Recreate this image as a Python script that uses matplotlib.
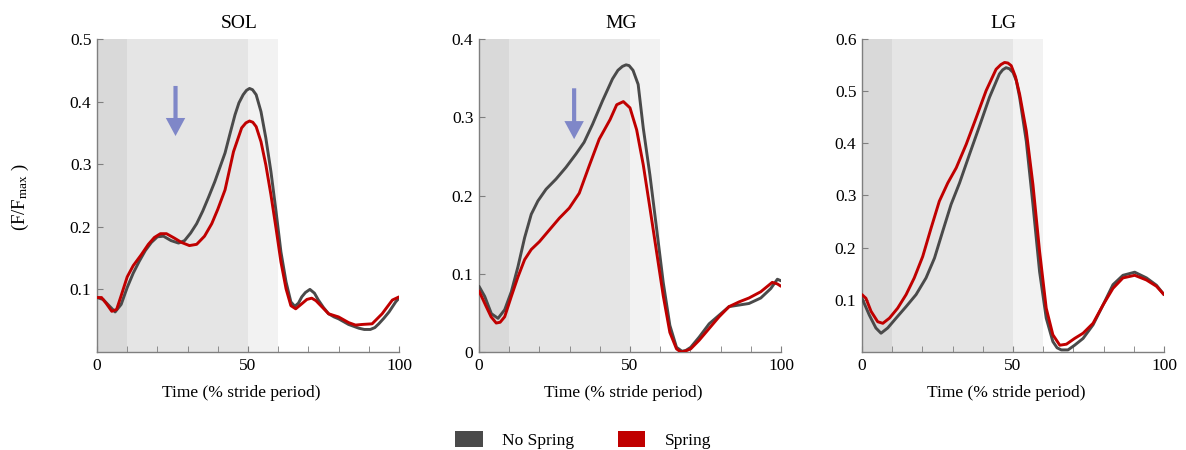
import matplotlib
matplotlib.use("Agg")
import matplotlib.pyplot as plt
from matplotlib.patches import Patch

plt.rcParams["font.family"] = ["Liberation Serif", "DejaVu Serif"]
plt.rcParams["mathtext.fontset"] = "custom"
plt.rcParams["mathtext.rm"] = "Liberation Serif"
plt.rcParams["mathtext.it"] = "Liberation Serif:italic"

# --- data ---
muscles = ["SOL", "MG", "LG"]
y_max = [0.5, 0.4, 0.6]
y_ticks = [[0.1, 0.2, 0.3, 0.4, 0.5],
           [0, 0.1, 0.2, 0.3, 0.4],
           [0.1, 0.2, 0.3, 0.4, 0.5, 0.6]]
y_ticklabels = [["0.1", "0.2", "0.3", "0.4", "0.5"],
                ["0", "0.1", "0.2", "0.3", "0.4"],
                ["0.1", "0.2", "0.3", "0.4", "0.5", "0.6"]]

# SOL
sol_nospring_x = [0, 2, 4, 6, 8, 10, 12, 14, 16, 18,
                  20, 22, 24.5, 27, 29, 31, 33, 35, 37, 39,
                  42.4, 44, 45.7, 47, 48.4, 49.5, 50.5, 51.5, 52.7, 54.3,
                  55.9, 57.6, 59.3, 60.9, 62.6, 64.2, 65.5, 66.7, 67.8, 69,
                  70.5, 72, 73.3, 75, 76.7, 78.5, 80, 83.3, 86.7, 88.5,
                  90.5, 92, 93.3, 95, 96.7, 98.9, 100]
sol_nospring_y = [0.087, 0.084, 0.074, 0.064, 0.076, 0.103, 0.126, 0.145, 0.162, 0.175,
                  0.184, 0.185, 0.178, 0.174, 0.178, 0.19, 0.205, 0.225, 0.248, 0.272,
                  0.318, 0.348, 0.379, 0.398, 0.411, 0.418, 0.421, 0.419, 0.411, 0.384,
                  0.342, 0.288, 0.224, 0.16, 0.112, 0.08, 0.073, 0.078, 0.088, 0.095,
                  0.1, 0.094, 0.083, 0.071, 0.061, 0.056, 0.053, 0.044, 0.038, 0.036,
                  0.036, 0.039, 0.045, 0.054, 0.064, 0.08, 0.086]
sol_spring_x = [0, 1.5, 3, 4.9, 6.5, 8, 10, 12, 14.6, 17,
                19, 21, 23, 25.6, 28, 30.6, 33, 35.6, 38, 40,
                42.4, 45.2, 47.9, 49.3, 50.5, 51.6, 52.7, 54.3, 55.9, 57.6,
                59.3, 60.9, 62.6, 64.2, 65.8, 67.8, 69.5, 71.1, 72.5, 73.9,
                76.7, 80, 83.3, 85.6, 87.8, 91.1, 94.4, 97.8, 100]
sol_spring_y = [0.087, 0.087, 0.078, 0.065, 0.068, 0.09, 0.12, 0.138, 0.155, 0.172,
                0.183, 0.189, 0.189, 0.182, 0.175, 0.170, 0.172, 0.185, 0.205, 0.228,
                0.259, 0.32, 0.358, 0.366, 0.369, 0.367, 0.36, 0.336, 0.299, 0.251,
                0.197, 0.144, 0.101, 0.074, 0.069, 0.077, 0.084, 0.086, 0.082, 0.075,
                0.061, 0.056, 0.047, 0.043, 0.044, 0.045, 0.061, 0.083, 0.088]

# MG
mg_nospring_x = [0, 1.9, 4.1, 6.3, 8.5, 10.7, 12.9, 15.1, 17.3, 19.5,
                 22.2, 25.5, 28.8, 32.1, 34.8, 37.6, 40.9, 44.2, 46, 47.5,
                 48.7, 49.7, 51, 52.7, 54.4, 56.6, 58.8, 61, 63.2, 65.4,
                 67.2, 68.5, 70.1, 72.9, 76.2, 79.5, 82.8, 86.1, 89.4, 93.3,
                 96.6, 98.8, 100]
mg_nospring_y = [0.084, 0.071, 0.049, 0.043, 0.054, 0.077, 0.109, 0.146, 0.176, 0.193,
                 0.208, 0.221, 0.236, 0.253, 0.268, 0.291, 0.321, 0.349, 0.36, 0.365,
                 0.367, 0.366, 0.36, 0.342, 0.286, 0.226, 0.158, 0.089, 0.034, 0.006,
                 0.001, 0.002, 0.006, 0.019, 0.036, 0.047, 0.058, 0.06, 0.062, 0.069,
                 0.081, 0.093, 0.091]
mg_spring_x = [0, 2.4, 4, 5.7, 7, 8.5, 10.7, 12.9, 15.1, 17.3,
               20, 23.3, 26.6, 29.9, 33.2, 36.5, 39.8, 43.4, 45.6, 47.8,
               50, 52.2, 54.4, 56.6, 58.8, 61, 63.2, 65.4, 66.8, 68.2,
               70.1, 72.9, 76.2, 79.5, 82.8, 86.1, 89.4, 93.3, 97.1, 98.8,
               100]
mg_spring_y = [0.078, 0.058, 0.045, 0.037, 0.038, 0.045, 0.071, 0.096, 0.118, 0.131,
               0.141, 0.156, 0.171, 0.184, 0.203, 0.238, 0.272, 0.297, 0.316, 0.32,
               0.312, 0.284, 0.239, 0.184, 0.128, 0.072, 0.025, 0.004, 0.0, 0.001,
               0.004, 0.015, 0.03, 0.045, 0.058, 0.064, 0.069, 0.077, 0.089, 0.087,
               0.084]

# LG
lg_nospring_x = [0, 2.4, 4.6, 6.3, 8.5, 11.3, 14.6, 17.9, 21.2, 24,
                 26.7, 29.5, 32.3, 35.6, 38.9, 42.2, 45.5, 46.6, 47.7, 48.8,
                 50, 51.1, 52.2, 54.4, 56.6, 58.8, 61, 63.2, 64.6, 66,
                 68.2, 70.4, 73.2, 76.5, 79.8, 83.1, 86.4, 90.3, 94.2, 97.5,
                 100]
lg_nospring_y = [0.103, 0.071, 0.046, 0.036, 0.046, 0.065, 0.087, 0.11, 0.142, 0.18,
                 0.231, 0.283, 0.324, 0.379, 0.433, 0.488, 0.533, 0.541, 0.545, 0.543,
                 0.536, 0.52, 0.488, 0.404, 0.283, 0.154, 0.065, 0.02, 0.008, 0.004,
                 0.004, 0.013, 0.026, 0.052, 0.09, 0.129, 0.147, 0.153, 0.142, 0.128,
                 0.11]
lg_spring_x = [0, 1.3, 3, 5.2, 6.9, 9.1, 11.8, 14.6, 17.3, 20.1,
               22.9, 25.6, 28.4, 31.2, 34.5, 37.8, 41.1, 44.4, 46, 47.2,
               48.3, 49.4, 50.8, 52.2, 54.4, 56.6, 58.8, 61, 63.2, 65.5,
               67.7, 70.4, 73.2, 76.5, 79.8, 83.1, 86.4, 90.3, 94.2, 97.5,
               100]
lg_spring_y = [0.11, 0.103, 0.078, 0.058, 0.055, 0.065, 0.084, 0.11, 0.142, 0.183,
               0.238, 0.289, 0.324, 0.353, 0.398, 0.449, 0.501, 0.542, 0.551, 0.555,
               0.554, 0.549, 0.528, 0.494, 0.424, 0.321, 0.193, 0.084, 0.033, 0.013,
               0.015, 0.026, 0.036, 0.055, 0.09, 0.122, 0.142, 0.147, 0.138, 0.126,
               0.11]

nospring = [(sol_nospring_x, sol_nospring_y), (mg_nospring_x, mg_nospring_y),
            (lg_nospring_x, lg_nospring_y)]
spring = [(sol_spring_x, sol_spring_y), (mg_spring_x, mg_spring_y),
          (lg_spring_x, lg_spring_y)]

# gait phases (% stride) and their shading
phases = [(0, 10), (10, 50), (50, 60)]
phase_colors = ["#d9d9d9", "#e5e5e5", "#f2f2f2"]

# arrows: (x, y_start, y_end), None where no arrow
arrows = [(26, 0.425, 0.345), (31.5, 0.337, 0.272), None]

col_nospring = "#4a4a4a"
col_spring = "#c00000"
col_arrow = "#7f87c8"
col_axis = "#7f7f7f"

fig = plt.figure(figsize=(11.86, 4.5), dpi=100)

lefts = [97, 479, 862]
for i, name in enumerate(muscles):
    ax = fig.add_axes([lefts[i] / 1186, 98 / 450, 302 / 1186, 313 / 450])

    for (a, b), c in zip(phases, phase_colors):
        ax.axvspan(a, b, color=c, lw=0, zorder=0)

    ax.plot(*nospring[i], color=col_nospring, lw=2.1, zorder=3,
            solid_joinstyle="round", solid_capstyle="round")
    ax.plot(*spring[i], color=col_spring, lw=2.1, zorder=4,
            solid_joinstyle="round", solid_capstyle="round")

    if arrows[i] is not None:
        ax_x, y0, y1 = arrows[i]
        ax.annotate("", xy=(ax_x, y1), xytext=(ax_x, y0),
                    arrowprops=dict(facecolor=col_arrow, edgecolor="none",
                                    width=3, headwidth=14, headlength=13,
                                    shrink=0), zorder=5)

    ax.set_xlim(0, 100)
    ax.set_ylim(0, y_max[i])
    ax.set_xticks([0, 50, 100])
    ax.set_xticks(range(0, 101, 10), minor=True)
    ax.set_yticks(y_ticks[i])
    ax.set_yticklabels(y_ticklabels[i])
    ax.tick_params(axis="both", which="both", direction="in", color=col_axis,
                   labelsize=12.5, pad=4, length=4)
    for s in ["top", "right"]:
        ax.spines[s].set_visible(False)
    for s in ["left", "bottom"]:
        ax.spines[s].set_color(col_axis)
        ax.spines[s].set_linewidth(1)

    ax.text(0.47, 1 + 16 / 313, name, transform=ax.transAxes,
            ha="center", va="center", fontsize=14)
    ax.set_xlabel("Time (% stride period)", fontsize=12.5)
    ax.xaxis.set_label_coords(0.478, -0.105)

fig.text(20 / 1186, 1 - 197 / 450, r"(F/F$_{\rm max}$ )", rotation=90,
         ha="center", va="center", fontsize=13.5)

handles = [Patch(facecolor=col_nospring, edgecolor="none", label="No Spring"),
           Patch(facecolor=col_spring, edgecolor="none", label="Spring")]
fig.legend(handles=handles, loc="center", bbox_to_anchor=(583 / 1186, 1 - 440 / 450),
           ncol=2, frameon=False, fontsize=12.5, handlelength=1.6,
           handleheight=1.0, handletextpad=1.1, columnspacing=2.5)

fig.savefig("out.png", dpi=100)
plt.close(fig)
